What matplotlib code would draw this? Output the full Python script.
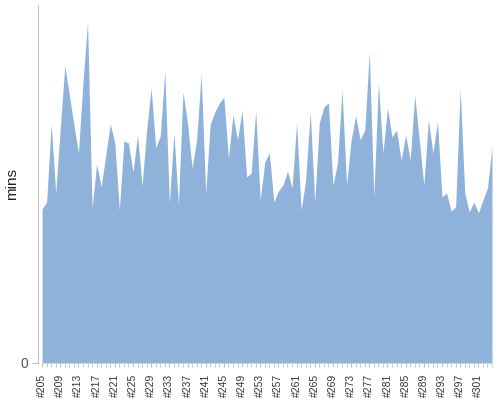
import numpy as np
import matplotlib
matplotlib.use("Agg")
import matplotlib.pyplot as plt

plt.rcParams["font.family"] = ["Liberation Sans", "DejaVu Sans"]

# build numbers #205 .. #304
builds = list(range(205, 305))

# build duration in minutes
mins = [15.4, 16.1, 23.9, 17.0, 23.5, 29.7, 26.8, 23.8, 21.0, 28.1,
        34.1, 15.5, 19.9, 17.6, 20.8, 23.9, 22.0, 15.3, 22.2, 22.0,
        19.1, 22.8, 17.7, 23.3, 27.5, 21.5, 22.7, 29.2, 16.0, 23.0,
        15.9, 27.1, 24.0, 19.5, 22.3, 28.9, 17.0, 23.9, 25.1, 26.0,
        26.6, 20.5, 24.8, 22.3, 25.3, 18.6, 19.0, 25.2, 16.3, 20.1,
        21.0, 16.1, 17.2, 17.8, 19.2, 17.5, 24.0, 15.3, 18.3, 25.1,
        16.1, 24.0, 25.6, 26.0, 17.8, 20.0, 27.3, 17.8, 22.3, 24.7,
        22.3, 23.3, 31.1, 16.6, 28.0, 21.0, 25.5, 22.6, 23.3, 20.3,
        22.8, 20.3, 26.8, 22.3, 17.8, 24.3, 21.0, 24.1, 16.6, 17.0,
        15.2, 15.6, 27.4, 17.0, 15.1, 16.1, 15.0, 16.3, 17.5, 21.6]

labels = ["#%d" % b for b in builds]
x = np.arange(len(builds))

fig = plt.figure(figsize=(5, 4), dpi=100)
ax = fig.add_axes([0.076, 0.0925, 0.908, 0.895])

ax.fill_between(x, 0, mins, color="#8fb2db", linewidth=0)

ax.set_xlim(-0.9, len(builds) - 1)
ax.set_ylim(0, 35.8)

# labels every 4th build, small ticks on every build
ax.set_xticks(x[::4])
ax.set_xticklabels(labels[::4], rotation=90, fontsize=7.5, color="#333333")
ax.set_xticks(x, minor=True)
ax.tick_params(axis="x", which="both", length=3, color="#c0c0c0", pad=5)

ax.set_yticks([0])
ax.set_yticklabels(["0"], fontsize=10, color="#555555")
ax.tick_params(axis="y", length=4, color="#c0c0c0", pad=3)

ax.set_ylabel("mins", fontsize=11, color="#222222")
ax.yaxis.set_label_coords(-0.042, 0.5)

for s in ["top", "right", "bottom"]:
    ax.spines[s].set_visible(False)
ax.spines["left"].set_color("#c0c0c0")

fig.savefig("out.png", dpi=100)
